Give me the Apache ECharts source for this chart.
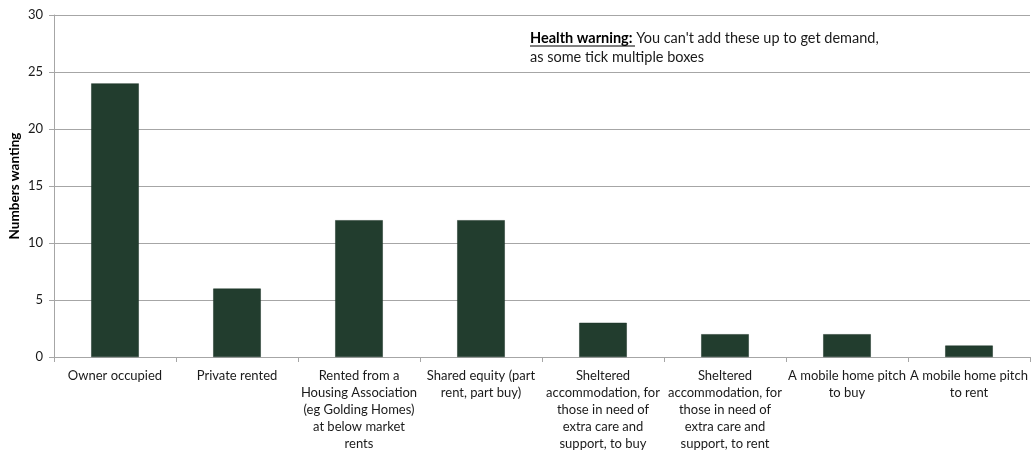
<!DOCTYPE html>
<html>
<head>
<meta charset="utf-8">
<script src="https://cdn.jsdelivr.net/npm/echarts@6/dist/echarts.min.js"></script>
<style>
  html, body { margin: 0; padding: 0; background: #fff; }
  #chart { width: 1035px; height: 452px; }
</style>
</head>
<body>
<div id="chart"></div>
<script>
// Housing types people said they want
const categories = [
  'Owner occupied',
  'Private rented',
  'Rented from a\nHousing Association\n(eg Golding Homes)\nat below market\nrents',
  'Shared equity (part\nrent, part buy)',
  'Sheltered\naccommodation, for\nthose in need of\nextra care and\nsupport, to buy',
  'Sheltered\naccommodation, for\nthose in need of\nextra care and\nsupport, to rent',
  'A mobile home pitch\nto buy',
  'A mobile home pitch\nto rent'
];
const numbersWanting = [24, 6, 12, 12, 3, 2, 2, 1];
const yTicks = { min: 0, max: 30, step: 5 };

const font = 'Lato, "Open Sans", sans-serif';
const chart = echarts.init(document.getElementById('chart'));

chart.setOption({
  animation: false,
  backgroundColor: '#ffffff',
  grid: { left: 54, right: 5, top: 15, bottom: 95, containLabel: false, outerBoundsMode: 'none' },
  xAxis: {
    type: 'category',
    data: categories,
    axisLine: { lineStyle: { color: '#a6a6a6', width: 1 } },
    axisTick: { show: true, length: 5, lineStyle: { color: '#a6a6a6' } },
    axisLabel: {
      interval: 0,
      margin: 10,
      color: '#1a1a1a',
      fontFamily: font,
      fontSize: 13,
      lineHeight: 17,
      align: 'center'
    }
  },
  yAxis: {
    type: 'value',
    min: yTicks.min,
    max: yTicks.max,
    interval: yTicks.step,
    name: 'Numbers wanting',
    nameLocation: 'middle',
    nameGap: 32,
    nameMoveOverlap: false,
    nameRotate: 90,
    nameTextStyle: { fontFamily: font, fontSize: 13.5, fontWeight: 'bold', color: '#000' },
    axisLine: { show: true, lineStyle: { color: '#a6a6a6' } },
    axisTick: { show: true, length: 5, lineStyle: { color: '#a6a6a6' } },
    axisLabel: { margin: 11, color: '#1a1a1a', fontFamily: font, fontSize: 13 },
    splitLine: { show: true, lineStyle: { color: '#a6a6a6', width: 1 } }
  },
  series: [{
    type: 'bar',
    data: numbersWanting,
    barWidth: '39%',
    itemStyle: { color: '#223d2e', borderColor: '#1b3226', borderWidth: 0.5 }
  }],
  graphic: [
    {
      type: 'text',
      left: 530,
      top: 29,
      style: {
        text: '{b|Health warning:} You can\'t add these up to get demand,\nas some tick multiple boxes',
        fontFamily: font,
        fontSize: 14.5,
        lineHeight: 19,
        fill: '#1a1a1a',
        rich: {
          b: { fontFamily: font, fontSize: 14.5, fontWeight: 'bold', fill: '#000' }
        }
      }
    },
    {
      type: 'line',
      shape: { x1: 530, y1: 46, x2: 635, y2: 46 },
      style: { stroke: '#000', lineWidth: 1 }
    }
  ]
});
</script>
</body>
</html>
